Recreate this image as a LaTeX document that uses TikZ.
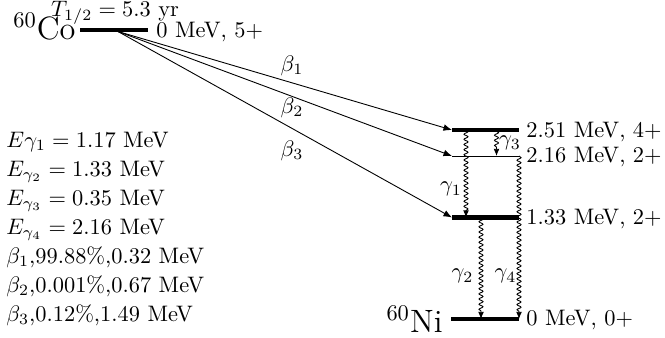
\documentclass[tikz,border=0pt]{standalone}
\usetikzlibrary{decorations.pathmorphing,arrows.meta}
\begin{document}
\begin{tikzpicture}[x=0.446pt,y=-0.446pt,
  level/.style={line width=1.9pt},
  thinlevel/.style={line width=0.4pt},
  betaarrow/.style={-{Latex[length=3.8pt,width=3pt]},line width=0.4pt},
  gammaarrow/.style={-{Latex[length=3.2pt,width=2.6pt]},line width=0.4pt,decorate,
     decoration={snake,amplitude=0.9pt,segment length=2.3pt,post length=3pt}},
  lvllabel/.style={anchor=base west,inner sep=0pt},
  txt/.style={anchor=base west,inner sep=0pt},
  nucl/.style={anchor=base east,inner sep=0pt,font=\Large}]
\useasboundingbox (0,0) rectangle (665,337);
% levels
\coordinate (coL) at (80,30);  \coordinate (coR) at (148,30); \coordinate (coS) at (118,31.5);
\coordinate (aL) at (452,130); \coordinate (aR) at (519,130);
\coordinate (bL) at (452,156); \coordinate (bR) at (519,156);
\coordinate (cL) at (452,217.5); \coordinate (cR) at (519,217.5);
\coordinate (dL) at (451,319); \coordinate (dR) at (519,319);
\draw[level] (coL) -- (coR);
\draw[level] (aL) -- (aR);
\draw[thinlevel] (bL) -- (bR);
\draw[level] (cL) -- (cR);
\draw[level] (dL) -- (dR);
% labels
\node[nucl] (co) at (76,39) {$^{60}$Co};
\node[anchor=base,inner sep=0pt] (thalf) at (115,16.5) {$T_{1/2} = 5.3$ yr};
\node[lvllabel] (co0) at (156,37) {0 MeV, 5+};
\node[lvllabel] (la) at (526,137) {2.51 MeV, 4+};
\node[lvllabel] (lb) at (526,162.5) {2.16 MeV, 2+};
\node[lvllabel] (lc) at (526,224.5) {1.33 MeV, 2+};
\node[lvllabel] (ld) at (526,325) {0 MeV, 0+};
\node[nucl] (ni) at (443,332) {$^{60}$Ni};
% beta transitions
\draw[betaarrow] (coS) -- (aL);
\draw[betaarrow] (coS) -- (bL);
\draw[betaarrow] (coS) -- (cL);
\node (b1) at (292,66) {$\beta_1$};
\node (b2) at (292,108) {$\beta_2$};
\node (b3) at (292,151) {$\beta_3$};
% gamma transitions
\coordinate (g1a) at (466,130); \coordinate (g1b) at (466,217.5);
\coordinate (g3a) at (496.5,131); \coordinate (g3b) at (496.5,156);
\coordinate (g2a) at (481,217.5); \coordinate (g2b) at (481,319);
\draw[gammaarrow] (g1a) -- (g1b);
\draw[gammaarrow] (g3a) -- (g3b);
\draw[gammaarrow] (g2a) -- (g2b);
\draw[gammaarrow] (bR) -- (dR);
\node (gl1) at (451,189) {$\gamma_1$};
\node (gl3) at (510,143) {$\gamma_3$};
\node (gl2) at (462.5,276) {$\gamma_2$};
\node (gl4) at (505.5,276) {$\gamma_4$};
% left text
\node[txt] (t1) at (6,147) {$E\gamma_1 = 1.17$ MeV};
\node[txt] (t2) at (6,176.1) {$E_{\gamma_2} = 1.33$ MeV};
\node[txt] (t3) at (6,205.2) {$E_{\gamma_3} = 0.35$ MeV};
\node[txt] (t4) at (6,234.3) {$E_{\gamma_4} = 2.16$ MeV};
\node[txt] (t5) at (6,263.4) {$\beta_1$,99.88\%,0.32 MeV};
\node[txt] (t6) at (6,292.5) {$\beta_2$,0.001\%,0.67 MeV};
\node[txt] (t7) at (6,321.6) {$\beta_3$,0.12\%,1.49 MeV};
\end{tikzpicture}
\end{document}
